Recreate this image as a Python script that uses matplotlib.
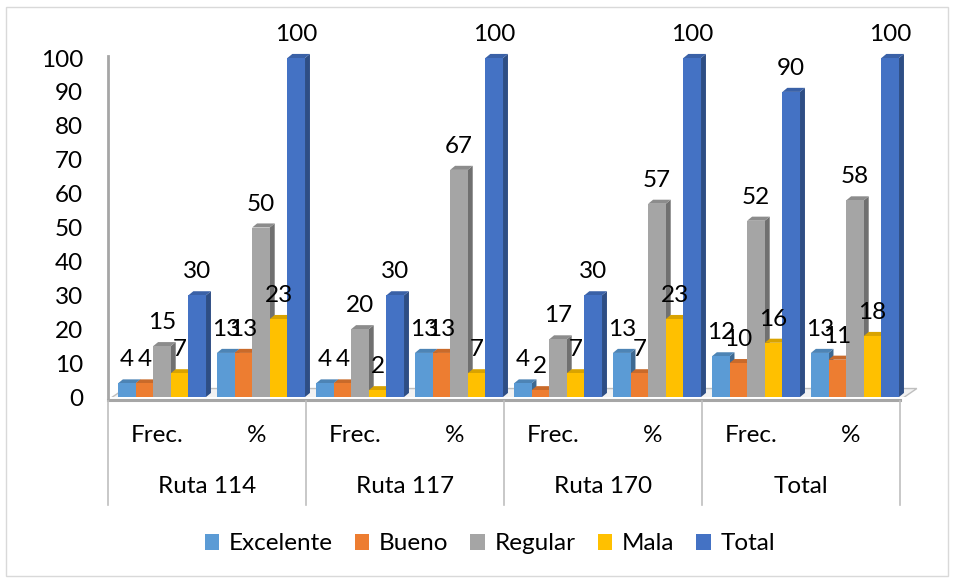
import numpy as np
import matplotlib
matplotlib.use("Agg")
import matplotlib.pyplot as plt
from matplotlib.patches import Polygon, Patch, Rectangle
from matplotlib.colors import to_rgb
import matplotlib.transforms as mtransforms

plt.rcParams['font.family'] = ['Lato', 'DejaVu Sans']

# data
sub_labels = ['Frec.', '%', 'Frec.', '%', 'Frec.', '%', 'Frec.', '%']
group_labels = ['Ruta 114', 'Ruta 117', 'Ruta 170', 'Total']
series_names = ['Excelente', 'Bueno', 'Regular', 'Mala', 'Total']
excelente = [4, 13, 4, 13, 4, 13, 12, 13]
bueno = [4, 13, 4, 13, 2, 7, 10, 11]
regular = [15, 50, 20, 67, 17, 57, 52, 58]
mala = [7, 23, 2, 7, 7, 23, 16, 18]
total = [30, 100, 30, 100, 30, 100, 90, 100]
colors = ['#5B9BD5', '#ED7D31', '#A5A5A5', '#FFC000', '#4472C4']
series = [excelente, bueno, regular, mala, total]

FS = 17.5
W, H = 955, 579
fig = plt.figure(figsize=(W / 100, H / 100), dpi=100)
fig.patches.append(Rectangle((6 / W, 3 / H), 942 / W, 569 / H, transform=fig.transFigure,
                             fill=False, edgecolor='#d9d9d9', lw=1))

ax = fig.add_axes([108 / W, 1 - 397 / H, 822 / W, 367 / H])
ax.set_xlim(-0.5, 7.803)
ax.set_ylim(0, 108.26)
for s in ax.spines.values():
    s.set_visible(False)

def shade(c, f):
    r, g, b = to_rgb(c)
    return (r * f, g * f, b * f)

bw = 0.178
dx, dy = 0.05, 1.2
fdx, fdy = 0.17, 3.4

# floor
ax.add_patch(Polygon([(-0.5, -0.9), (7.5, -0.9), (7.5 + fdx, fdy - 0.9), (-0.5 + fdx, fdy - 0.9)],
                     closed=True, facecolor='#f2f2f2', edgecolor='#bfbfbf', lw=1, zorder=1))
ax.plot([-0.5, 7.5], [-0.9, -0.9], color='#a6a6a6', lw=2.2, clip_on=False, zorder=1.5)
ax.plot([-0.5, -0.5], [-0.9, 100.5], color='#a6a6a6', lw=2, clip_on=False, zorder=1.5)

x = np.arange(len(sub_labels))
for k, (vals, c) in enumerate(zip(series, colors)):
    lefts = x - 0.40 + bw * k
    for x0, v in zip(lefts, vals):
        z = 2 + k * 0.1
        ax.add_patch(Polygon([(x0 + bw, 0), (x0 + bw + dx, dy), (x0 + bw + dx, v + dy), (x0 + bw, v)],
                             closed=True, facecolor=shade(c, 0.68), edgecolor='none', zorder=z))
        ax.add_patch(Polygon([(x0, v), (x0 + bw, v), (x0 + bw + dx, v + dy), (x0 + dx, v + dy)],
                             closed=True, facecolor=shade(c, 0.85), edgecolor='none', zorder=z))
    ax.bar(lefts, vals, width=bw, align='edge', color=c, zorder=2 + k * 0.1 + 0.05)
    for x0, v in zip(lefts, vals):
        ax.text(x0 + bw / 2, v + 5, str(v), ha='center', va='baseline', fontsize=FS,
                color='black', zorder=5)

ax.set_yticks(range(0, 101, 10))
ax.tick_params(axis='y', length=0, pad=18, labelsize=FS)
ax.set_xticks(x)
ax.set_xticklabels(sub_labels)
ax.tick_params(axis='x', length=0, pad=20, labelsize=FS)

tr = mtransforms.blended_transform_factory(ax.transData, ax.transAxes)
for i, g in enumerate(group_labels):
    ax.text(2 * i + 0.5, -0.245, g, transform=tr, ha='center', va='center', fontsize=FS)
for xb in [-0.5, 1.5, 3.5, 5.5, 7.5]:
    ax.plot([xb, xb], [-0.01, -0.294], transform=tr, color='#bfbfbf', lw=1.2, clip_on=False)

handles = [Patch(facecolor=c, edgecolor='none') for c in colors]
fig.legend(handles, series_names, loc='center', bbox_to_anchor=(0.513, 1 - 544 / H), ncol=5,
           frameon=False, fontsize=FS, handlelength=0.6, handleheight=0.6,
           handletextpad=0.4, columnspacing=0.9)

fig.savefig('out.png', dpi=100)
